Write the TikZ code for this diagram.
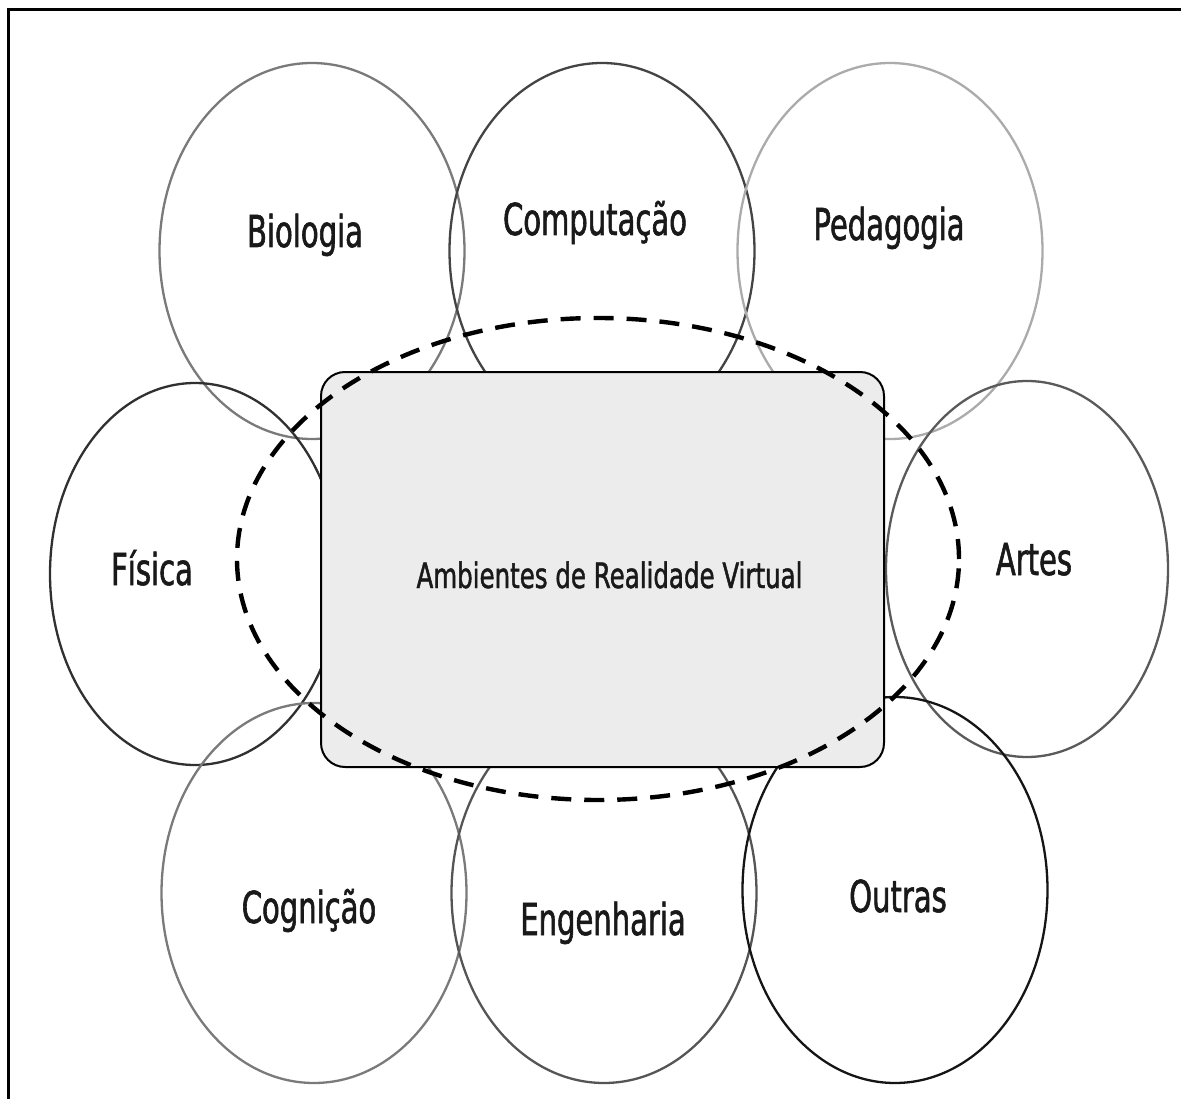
\documentclass[tikz,border=0pt]{standalone}
\usepackage{fontspec}
\usetikzlibrary{shapes.geometric}
\newfontfamily\lblfont[FakeStretch=0.66,FakeBold=1.3]{DejaVu Sans}
\newfontfamily\ctrfont[FakeStretch=0.70,FakeBold=1.3]{DejaVu Sans}
\definecolor{cBio}{HTML}{7A7A7A}
\definecolor{cComp}{HTML}{444444}
\definecolor{cPed}{HTML}{ABABAB}
\definecolor{cFis}{HTML}{303030}
\definecolor{cArt}{HTML}{5A5A5A}
\definecolor{cCog}{HTML}{7A7A7A}
\definecolor{cEng}{HTML}{555555}
\definecolor{cOut}{HTML}{151515}
\definecolor{rectfill}{HTML}{ECECEC}
\begin{document}
\begin{tikzpicture}[x=1pt,y=-1pt,
  area/.style={ellipse,draw,line width=2.3pt,inner sep=0pt,minimum width=#1},
  area/.default=305pt,
  lbl/.style={anchor=base,inner sep=0pt,font=\lblfont\fontsize{44}{50}\selectfont,text=black!90},
  centerbox/.style={draw=black,line width=2pt,fill=rectfill,rounded corners=24pt,inner sep=0pt,minimum width=563pt,minimum height=395pt},
  dashring/.style={ellipse,draw=black,line width=4.4pt,dash pattern=on 20pt off 13pt,inner sep=0pt,minimum width=722pt,minimum height=482pt},
  frameline/.style={draw=black,line width=3pt}]
\useasboundingbox (0,0) rectangle (1181,1099);
\fill[white] (0,0) rectangle (1181,1099);
% frame (only top and left edges show)
\draw[frameline] (8,1099) -- (8,10) -- (1181,10);
% outer areas
\node[area,draw=cBio,minimum height=376pt]  (bio)  at (312,251) {};
\node[area,draw=cComp,minimum height=376pt] (comp) at (602,251) {};
\node[area,draw=cPed,minimum height=376pt]  (ped)  at (890,251) {};
\node[area=290pt,draw=cFis,minimum height=382pt]  (fis)  at (195,574) {};
\node[area=282pt,draw=cArt,minimum height=376pt]  (art)  at (1027,569) {};
\node[area,draw=cCog,minimum height=380pt]  (cog)  at (314,893) {};
\node[area,draw=cEng,minimum height=380pt]  (eng)  at (604,893) {};
\node[area,draw=cOut,minimum height=386pt]  (out)  at (895,890) {};
% labels
\node[lbl] (tbio)  at (305,247) {Biologia};
\node[lbl] (tcomp) at (595,235) {Computação};
\node[lbl] (tped)  at (889,240) {Pedagogia};
\node[lbl] (tfis)  at (152,585) {Física};
\node[lbl] (tart)  at (1034,575) {Artes};
\node[lbl] (tcog)  at (309,923) {Cognição};
\node[lbl] (teng)  at (603,935) {Engenharia};
\node[lbl] (tout)  at (898,912) {Outras};
% central box
\node[centerbox] (avr) at (602.5,569.5) {};
\node[anchor=base,inner sep=0pt,font=\ctrfont\fontsize{35}{40}\selectfont,text=black!90] (tavr) at (609.5,588) {Ambientes de Realidade Virtual};
% dashed ring
\node[dashring] (ring) at (598,559) {};
\end{tikzpicture}
\end{document}
